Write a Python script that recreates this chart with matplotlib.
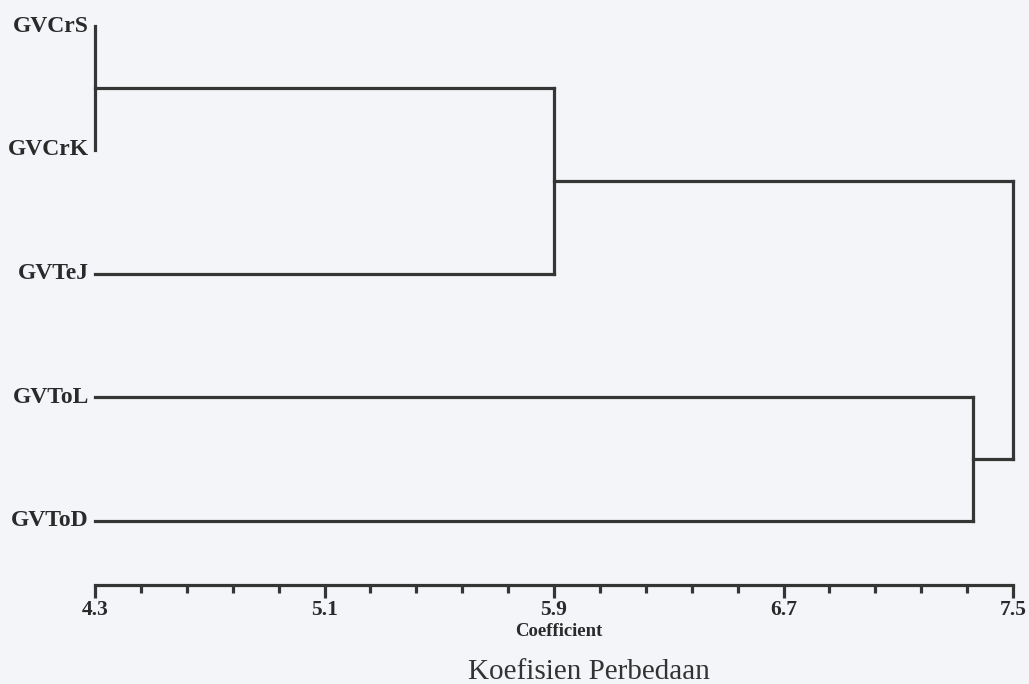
import matplotlib
matplotlib.use("Agg")
import matplotlib.pyplot as plt
import numpy as np
from matplotlib.ticker import FixedLocator

# ---- data ----
leaf_labels = ["GVCrS", "GVCrK", "GVTeJ", "GVToL", "GVToD"]
# merges: (left node, right node, height); nodes 0..4 are leaves, 5.. are clusters
merge_left = [0, 5, 3, 6]
merge_right = [1, 2, 4, 7]
merge_height = [4.3, 5.9, 7.36, 7.5]
major_ticks = [4.3, 5.1, 5.9, 6.7, 7.5]
tick_labels = ["4.3", "5.1", "5.9", "6.7", "7.5"]
x_min, x_max = 4.3, 7.5

line_color = "#353535"
bg = "#f3f5f8"
lw = 2.3

W, H = 1029, 684
fig = plt.figure(figsize=(W / 100, H / 100), dpi=100, facecolor=bg)
ax_left, ax_right = 95, 1013
ax_bottom_px = 585
leaf0_px, leaf_step = 26, 123.75
ax = fig.add_axes([ax_left / W, 1 - ax_bottom_px / H, (ax_right - ax_left) / W, ax_bottom_px / H])
ax.set_facecolor(bg)
ax.set_xlim(x_min, x_max)
ax.set_ylim((ax_bottom_px - leaf0_px) / leaf_step, -leaf0_px / leaf_step)

# node positions
node_y = {i: float(i) for i in range(len(leaf_labels))}
node_x = {i: x_min for i in range(len(leaf_labels))}
for k, (l, r, h) in enumerate(zip(merge_left, merge_right, merge_height)):
    nid = len(leaf_labels) + k
    for c in (l, r):
        ax.plot([node_x[c], h], [node_y[c], node_y[c]], color=line_color, lw=lw,
                solid_capstyle="projecting", clip_on=False)
    ax.plot([h, h], [node_y[l], node_y[r]], color=line_color, lw=lw,
            solid_capstyle="projecting", clip_on=False)
    node_y[nid] = (node_y[l] + node_y[r]) / 2
    node_x[nid] = h

serif = ["Liberation Serif", "DejaVu Serif"]
for i, lab in enumerate(leaf_labels):
    ax.annotate(lab, xy=(x_min, i), xytext=(-6, 0), textcoords="offset pixels",
                ha="right", va="center", fontsize=17, fontweight="bold",
                family=serif, color="#2a2a2a", annotation_clip=False)

for s in ["top", "left", "right"]:
    ax.spines[s].set_visible(False)
ax.spines["bottom"].set_linewidth(lw)
ax.spines["bottom"].set_color(line_color)
ax.spines["bottom"].set_capstyle("projecting")
ax.set_yticks([])
ax.xaxis.set_major_locator(FixedLocator(major_ticks))
ax.xaxis.set_minor_locator(FixedLocator(np.arange(4.3, 7.51, 0.16)))
ax.set_xticklabels(tick_labels, fontsize=15.5, fontweight="bold", family=serif, color="#2a2a2a")
ax.tick_params(axis="x", which="major", length=9.5, width=lw, color=line_color, pad=1, direction="out")
ax.tick_params(axis="x", which="minor", length=5.5, width=lw, color=line_color, direction="out")

fig.text(559 / W, 1 - 631 / H, "Coefficient", ha="center", va="center", fontsize=13.5,
         fontweight="bold", family=serif, color="#2a2a2a")
fig.text(589 / W, 1 - 679 / H, "Koefisien Perbedaan", ha="center", va="baseline",
         fontsize=21, family=serif, color="#333333")

fig.savefig("out.png", dpi=100, facecolor=bg)
